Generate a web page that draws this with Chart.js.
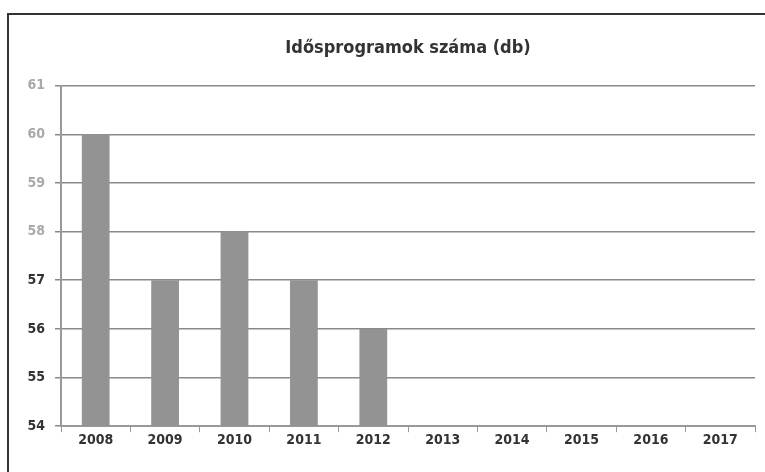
<!DOCTYPE html>
<html><head><meta charset="utf-8">
<script src="https://cdn.jsdelivr.net/npm/chart.js@4/dist/chart.umd.min.js"></script>
<style>
html,body{margin:0;padding:0;background:#fff;width:765px;height:472px;overflow:hidden;}
#frame{position:absolute;left:7px;top:13px;width:800px;height:500px;border-left:2px solid #333;border-top:2px solid #333;}
#wrap{position:absolute;left:0;top:0;width:765px;height:472px;}
</style></head>
<body>
<div id="frame"></div>
<div id="wrap"><canvas id="c" width="765" height="472"></canvas></div>
<script>
const categories = ['2008','2009','2010','2011','2012','2013','2014','2015','2016','2017'];
const values = [60, 57, 58, 57, 56, null, null, null, null, null];
const yMin = 54, yMax = 61;
const titleText = 'Idősprogramok száma (db)';
const FONT = '"DejaVu Sans Condensed","Liberation Sans",sans-serif';

new Chart(document.getElementById('c'), {
  type: 'bar',
  data: { labels: categories, datasets: [{ data: values, backgroundColor: '#939393', borderWidth: 0, barPercentage: 0.4, categoryPercentage: 1.0 }] },
  options: {
    responsive: false, animation: false,
    layout: { padding: { left: 11, right: 10, top: 6, bottom: 23 } },
    plugins: {
      legend: { display: false }, tooltip: { enabled: false },
      title: { display: true, text: titleText, fullSize: false, color: '#333',
        font: { family: FONT, size: 18, weight: 'bold' }, padding: { top: 32, bottom: 26 } }
    },
    scales: {
      x: {
        grid: { display: true, drawOnChartArea: false, drawTicks: true, tickLength: 6, color: '#999', offset: true },
        border: { display: true, color: '#999', width: 2 },
        ticks: { color: '#333', font: { family: FONT, size: 14, weight: 'bold' }, padding: 0 }
      },
      y: {
        min: yMin, max: yMax,
        afterFit: (s) => { s.width = 50; },
        grid: { color: '#8a8a8a', lineWidth: 1.5, tickLength: 6 },
        border: { display: true, color: '#999', width: 2 },
        ticks: { stepSize: 1, padding: 10,
          color: (ctx) => (ctx.tick && ctx.tick.value >= 58 ? '#aaa' : '#333'),
          font: { family: FONT, size: 14, weight: 'bold' } }
      }
    }
  }
});
</script>
</body></html>
